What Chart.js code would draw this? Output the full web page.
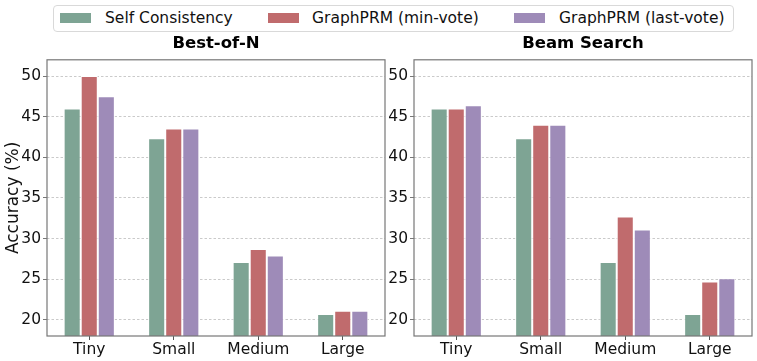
<!DOCTYPE html>
<html>
<head>
<meta charset="utf-8">
<script src="https://cdn.jsdelivr.net/npm/chart.js@4.4.0/dist/chart.umd.min.js"></script>
<style>
  body { margin: 0; background: #fff; font-family: "DejaVu Sans", sans-serif; }
  #wrap { position: relative; width: 757px; height: 361px; overflow: hidden; }
  #c1 { position: absolute; left: 0; top: 0; }
  #c2 { position: absolute; left: 388px; top: 0; }
  #legend {
    position: absolute; left: 53px; top: 5px; width: 679px; height: 25px;
    border: 1px solid #d9d9d9; border-radius: 4px; background: #fff;
    font-size: 15.5px; color: #111;
  }
  .patch { position: absolute; top: 7px; width: 31px; height: 10px; }
  .lab { position: absolute; top: 2px; line-height: 20px; white-space: nowrap; }
</style>
</head>
<body>
<div id="wrap">
  <canvas id="c1" width="390" height="361"></canvas>
  <canvas id="c2" width="369" height="361"></canvas>
  <div id="legend"></div>
</div>
<script>
// data
const categories = ['Tiny', 'Small', 'Medium', 'Large'];
const seriesNames = ['Self Consistency', 'GraphPRM (min-vote)', 'GraphPRM (last-vote)'];
const colors = ['#7ea494', '#c06b6d', '#9e8bb8'];

const bonSelf = [46.0, 42.35, 27.1, 20.7];
const bonMin  = [50.0, 43.55, 28.7, 21.1];
const bonLast = [47.5, 43.55, 27.9, 21.1];

const beamSelf = [46.0, 42.35, 27.1, 20.7];
const beamMin  = [46.0, 44.0, 32.7, 24.7];
const beamLast = [46.4, 44.0, 31.1, 25.1];

const yTicks = [20, 25, 30, 35, 40, 45, 50];

const FONT = 'DejaVu Sans';

// legend (html, spans both panels)
const legendEl = document.getElementById('legend');
const patchX = [6, 214, 460];
const textX = [51, 258, 505];
seriesNames.forEach((name, i) => {
  const p = document.createElement('div');
  p.className = 'patch';
  p.style.left = patchX[i] + 'px';
  p.style.background = colors[i];
  legendEl.appendChild(p);
  const t = document.createElement('div');
  t.className = 'lab';
  t.style.left = textX[i] + 'px';
  t.textContent = name;
  legendEl.appendChild(t);
});

// box round the plot area, like matplotlib spines
const frame = {
  id: 'frame',
  afterDatasetsDraw(chart) {
    const { ctx, chartArea: a } = chart;
    ctx.save();
    ctx.strokeStyle = '#777';
    ctx.lineWidth = 1.2;
    ctx.strokeRect(a.left, a.top, a.right - a.left, a.bottom - a.top);
    ctx.restore();
  }
};

function makeDatasets(a, b, c) {
  return [a, b, c].map((vals, i) => ({
    label: seriesNames[i],
    data: vals,
    backgroundColor: colors[i],
    borderColor: '#ffffff',
    borderWidth: 1,
    borderSkipped: 'start',
    categoryPercentage: 0.606,
    barPercentage: 1.0
  }));
}

function makeChart(id, title, datasets, yWidth, showYTitle) {
  return new Chart(document.getElementById(id), {
    type: 'bar',
    data: { labels: categories, datasets: datasets },
    options: {
      responsive: false,
      animation: false,
      layout: { padding: { top: 34, right: 5, left: 0, bottom: 0 } },
      plugins: {
        legend: { display: false },
        tooltip: { enabled: false },
        title: {
          display: true,
          text: title,
          fullSize: false,
          color: '#000',
          font: { family: FONT, size: 16.5, weight: 'bold', lineHeight: 1.2 },
          padding: { top: 0, bottom: 6 }
        }
      },
      scales: {
        x: {
          border: { display: false },
          grid: {
            offset: false,
            drawOnChartArea: false,
            drawTicks: true,
            tickLength: 4,
            tickColor: '#555'
          },
          ticks: {
            color: '#111',
            padding: 1,
            font: { family: FONT, size: 15.5 },
            maxRotation: 0
          },
          afterFit(scale) { scale.height = 25; }
        },
        y: {
          min: 18,
          max: 52,
          border: { display: false, dash: [2.5, 2] },
          grid: {
            color: '#bdbdbd',
            lineWidth: 0.8,
            drawTicks: true,
            tickLength: 4,
            tickColor: '#555',
            tickBorderDash: []
          },
          ticks: {
            color: '#111',
            padding: 2,
            font: { family: FONT, size: 15.5 }
          },
          title: {
            display: showYTitle,
            text: 'Accuracy (%)',
            color: '#111',
            font: { family: FONT, size: 17, lineHeight: 1.2 },
            padding: { top: 3, bottom: 0 }
          },
          afterBuildTicks(scale) {
            scale.ticks = yTicks.map(v => ({ value: v }));
          },
          afterFit(scale) { scale.width = yWidth; }
        }
      }
    },
    plugins: [frame]
  });
}

makeChart('c1', 'Best-of-N', makeDatasets(bonSelf, bonMin, bonLast), 47, true);
makeChart('c2', 'Beam Search', makeDatasets(beamSelf, beamMin, beamLast), 26, false);
</script>
</body>
</html>
